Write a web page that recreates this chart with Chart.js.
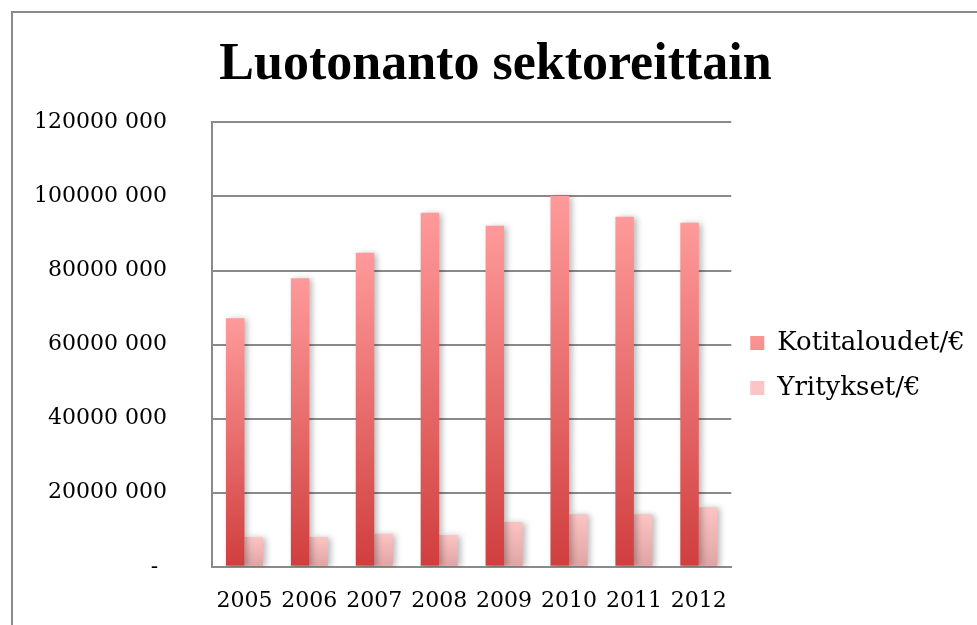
<!DOCTYPE html>
<html>
<head>
<meta charset="utf-8">
<script src="https://cdn.jsdelivr.net/npm/chart.js@4.4.1/dist/chart.umd.min.js"></script>
<style>
  html, body { margin: 0; padding: 0; background: #fff; }
  #wrap { width: 977px; height: 625px; position: relative; }
</style>
</head>
<body>
<div id="wrap"><canvas id="chart"></canvas></div>
<script>
const years = ['2005', '2006', '2007', '2008', '2009', '2010', '2011', '2012'];
const kotitaloudet = [67100000, 77900000, 84800000, 95600000, 92100000, 100100000, 94500000, 92900000];
const yritykset = [8050000, 8050000, 8900000, 8600000, 12100000, 14200000, 14200000, 16100000];
const seriesNames = ['Kotitaloudet/€', 'Yritykset/€'];

const SERIF = '"DejaVu Serif", serif';
const TITLE_FONT = '"Liberation Serif", serif';

/* ---------- gradient per bar ---------- */
function barGradient(top, bottom, mid) {
    return ctx => {
        const chart = ctx.chart;
        const { chartArea, scales } = chart;
        if (!chartArea || ctx.raw === undefined) return mid;
        const y1 = scales.y.getPixelForValue(ctx.raw);
        const y0 = scales.y.getPixelForValue(0);
        const g = chart.ctx.createLinearGradient(0, y1, 0, y0);
        g.addColorStop(0, top);
        g.addColorStop(1, bottom);
        return g;
    };
}

/* ---------- frame + bar shadow ---------- */
const framePlugin = {
    id: 'frame',
    beforeDraw(chart) {
        const c = chart.ctx;
        c.save();
        c.strokeStyle = '#8a8a8a';
        c.lineWidth = 2;
        c.strokeRect(12, 12, 1100, 800);
        c.restore();
    },
    beforeDatasetsDraw(chart) {
        const c = chart.ctx;
        c.save();
        c.shadowColor = 'rgba(0,0,0,0.28)';
        c.shadowBlur = 6;
        c.shadowOffsetX = 3;
        c.shadowOffsetY = 1;
    },
    afterDatasetsDraw(chart) {
        chart.ctx.restore();
    }
};

new Chart(document.getElementById('chart'), {
    type: 'bar',
    plugins: [framePlugin],
    data: {
        labels: years,
        datasets: [{
            label: seriesNames[0],
            data: kotitaloudet,
            backgroundColor: barGradient('#ff9a9a', '#d03e3e', '#e86a6a')
        }, {
            label: seriesNames[1],
            data: yritykset,
            backgroundColor: barGradient('#fdc4c4', '#dfa3a3', '#f0b4b4')
        }]
    },
    options: {
        responsive: true,
        maintainAspectRatio: false,
        animation: false,
        layout: { padding: { left: 24, right: 10, top: 12, bottom: 2 } },
        datasets: {
            bar: { barPercentage: 1, categoryPercentage: 0.57 }
        },
        plugins: {
            title: {
                display: true,
                text: 'Luotonanto sektoreittain',
                color: '#000',
                font: { family: TITLE_FONT, size: 52, weight: 'bold' },
                padding: { top: 22, bottom: 26 }
            },
            legend: {
                position: 'right',
                title: {
                    display: true,
                    text: ' ',
                    font: { size: 10 },
                    padding: { top: 84, bottom: 0 }
                },
                labels: {
                    color: '#000',
                    font: { family: SERIF, size: 26 },
                    boxWidth: 14,
                    boxHeight: 14,
                    padding: 19
                }
            },
            tooltip: { enabled: false }
        },
        scales: {
            x: {
                afterFit(scale) { scale.height = 48; },
                grid: { display: false, drawTicks: false },
                border: { color: '#8a8a8a', width: 2 },
                ticks: {
                    color: '#000',
                    font: { family: SERIF, size: 22 },
                    padding: 21,
                    maxRotation: 0
                }
            },
            y: {
                min: 0,
                max: 120000000,
                afterFit(scale) { scale.width = 188; },
                grid: { color: '#8a8a8a', lineWidth: 2, drawTicks: false },
                border: { color: '#8a8a8a', width: 2 },
                ticks: {
                    stepSize: 20000000,
                    color: '#000',
                    font: { family: SERIF, size: 22 },
                    padding: 45,
                    callback: v => v === 0 ? '-\u2009\u2009' : (v / 1000) + ' 000'
                }
            }
        }
    }
});
</script>
</body>
</html>
